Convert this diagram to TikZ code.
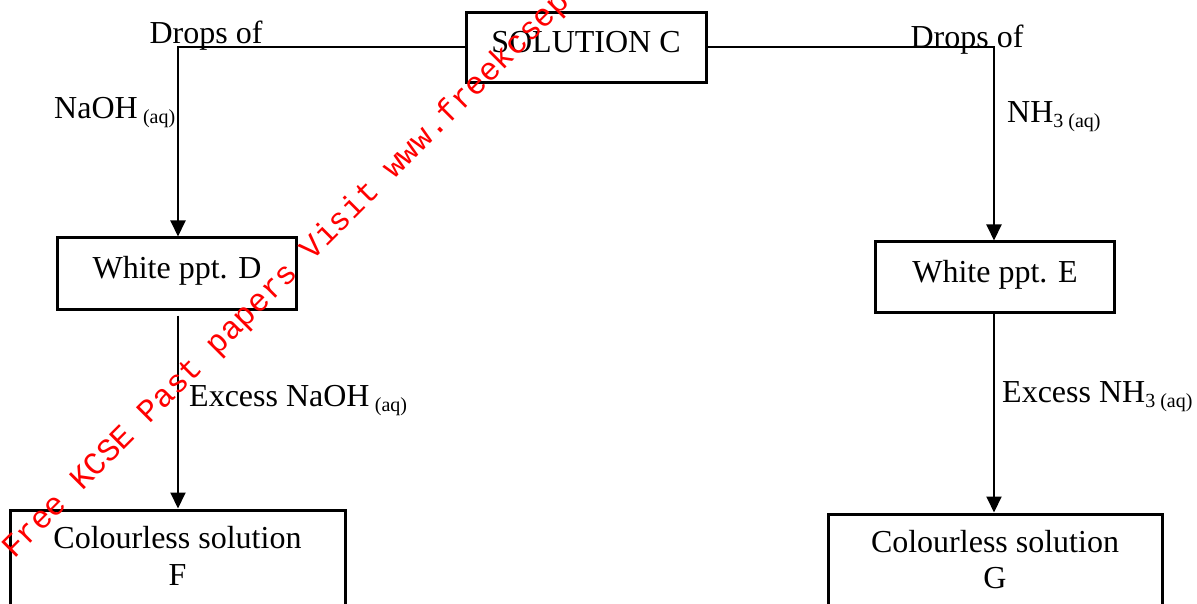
\documentclass[tikz,border=0pt]{standalone}
\usepackage{fontspec}
\setmainfont{Liberation Serif}
\newfontfamily\wmfont{Liberation Mono}
\usetikzlibrary{arrows.meta}
\newcommand\lowsub[1]{\raisebox{-5pt}{\fontsize{20}{20}\selectfont #1}}
\begin{document}
\begin{tikzpicture}[x=1pt,y=-1pt,
  box/.style={draw,line width=3pt,inner sep=0pt},
  txt/.style={inner sep=0pt,font=\fontsize{32}{36}\selectfont},
  conn/.style={line width=2pt},
  arr/.style={conn,-{Triangle[length=16pt,width=15pt]}},
  wmark/.style={inner sep=0pt,text=red,font=\wmfont\fontsize{32}{32}\selectfont}]
\useasboundingbox (0,0) rectangle (1197,604);
\clip (0,0) rectangle (1197,604);
\fill[white] (0,0) rectangle (1197,604);

% boxes
\node[box,minimum width=240pt,minimum height=70pt] (C) at (586,48) {};
\node[box,minimum width=239pt,minimum height=71pt] (D) at (176.5,273.5) {};
\node[box,minimum width=239pt,minimum height=70pt] (E) at (994.5,277) {};
\node[box,minimum width=335pt,minimum height=140pt] (F) at (177.5,580) {};
\node[box,minimum width=334pt,minimum height=140pt] (G) at (995,584) {};

% box texts
\node[txt,anchor=base] (Ct) at (586,53) {SOLUTION C};
\node[txt,anchor=base] (Dt) at (177,278) {White ppt. D};
\node[txt,anchor=base] (Et) at (995,283) {White ppt. E};
\node[txt,anchor=base] (Ft1) at (177.5,548) {Colourless solution};
\node[txt,anchor=base] (Ft2) at (177.5,585) {F};
\node[txt,anchor=base] (Gt1) at (995,552) {Colourless solution};
\node[txt,anchor=base] (Gt2) at (995,588) {G};

% connectors
\coordinate (cl) at (178,47);
\coordinate (cr) at (994,47);
\draw[arr] (C.west |- cl) -- (cl) -- (cl |- D.north);
\draw[arr] (C.east |- cr) -- (cr) -- (cr |- E.north);
\path (cl |- D.south) ++(0,5) coordinate (ds);
\draw[arr] (ds) -- (cl |- F.north);
\draw[arr] (cr |- E.south) -- (cr |- G.north);

% labels
\node[txt,anchor=base] (l1) at (206,44) {Drops of};
\node[txt,anchor=base west] (l2) at (54,119) {NaOH\,\lowsub{(aq)}};
\node[txt,anchor=base] (r1) at (967,48) {Drops of};
\node[txt,anchor=base west] (r2) at (1007,123) {NH\lowsub{3 (aq)}};
\node[txt,anchor=base west] (l3) at (189,406) {Excess NaOH\,\lowsub{(aq)}};
\node[txt,anchor=base west] (r3) at (1002,402) {Excess NH\lowsub{3 (aq)}};

% watermark
\node[wmark,anchor=base west,rotate=45] (wm) at (14,560) {Free KCSE Past papers Visit www.freekcsepastpapers.com};
\end{tikzpicture}
\end{document}
